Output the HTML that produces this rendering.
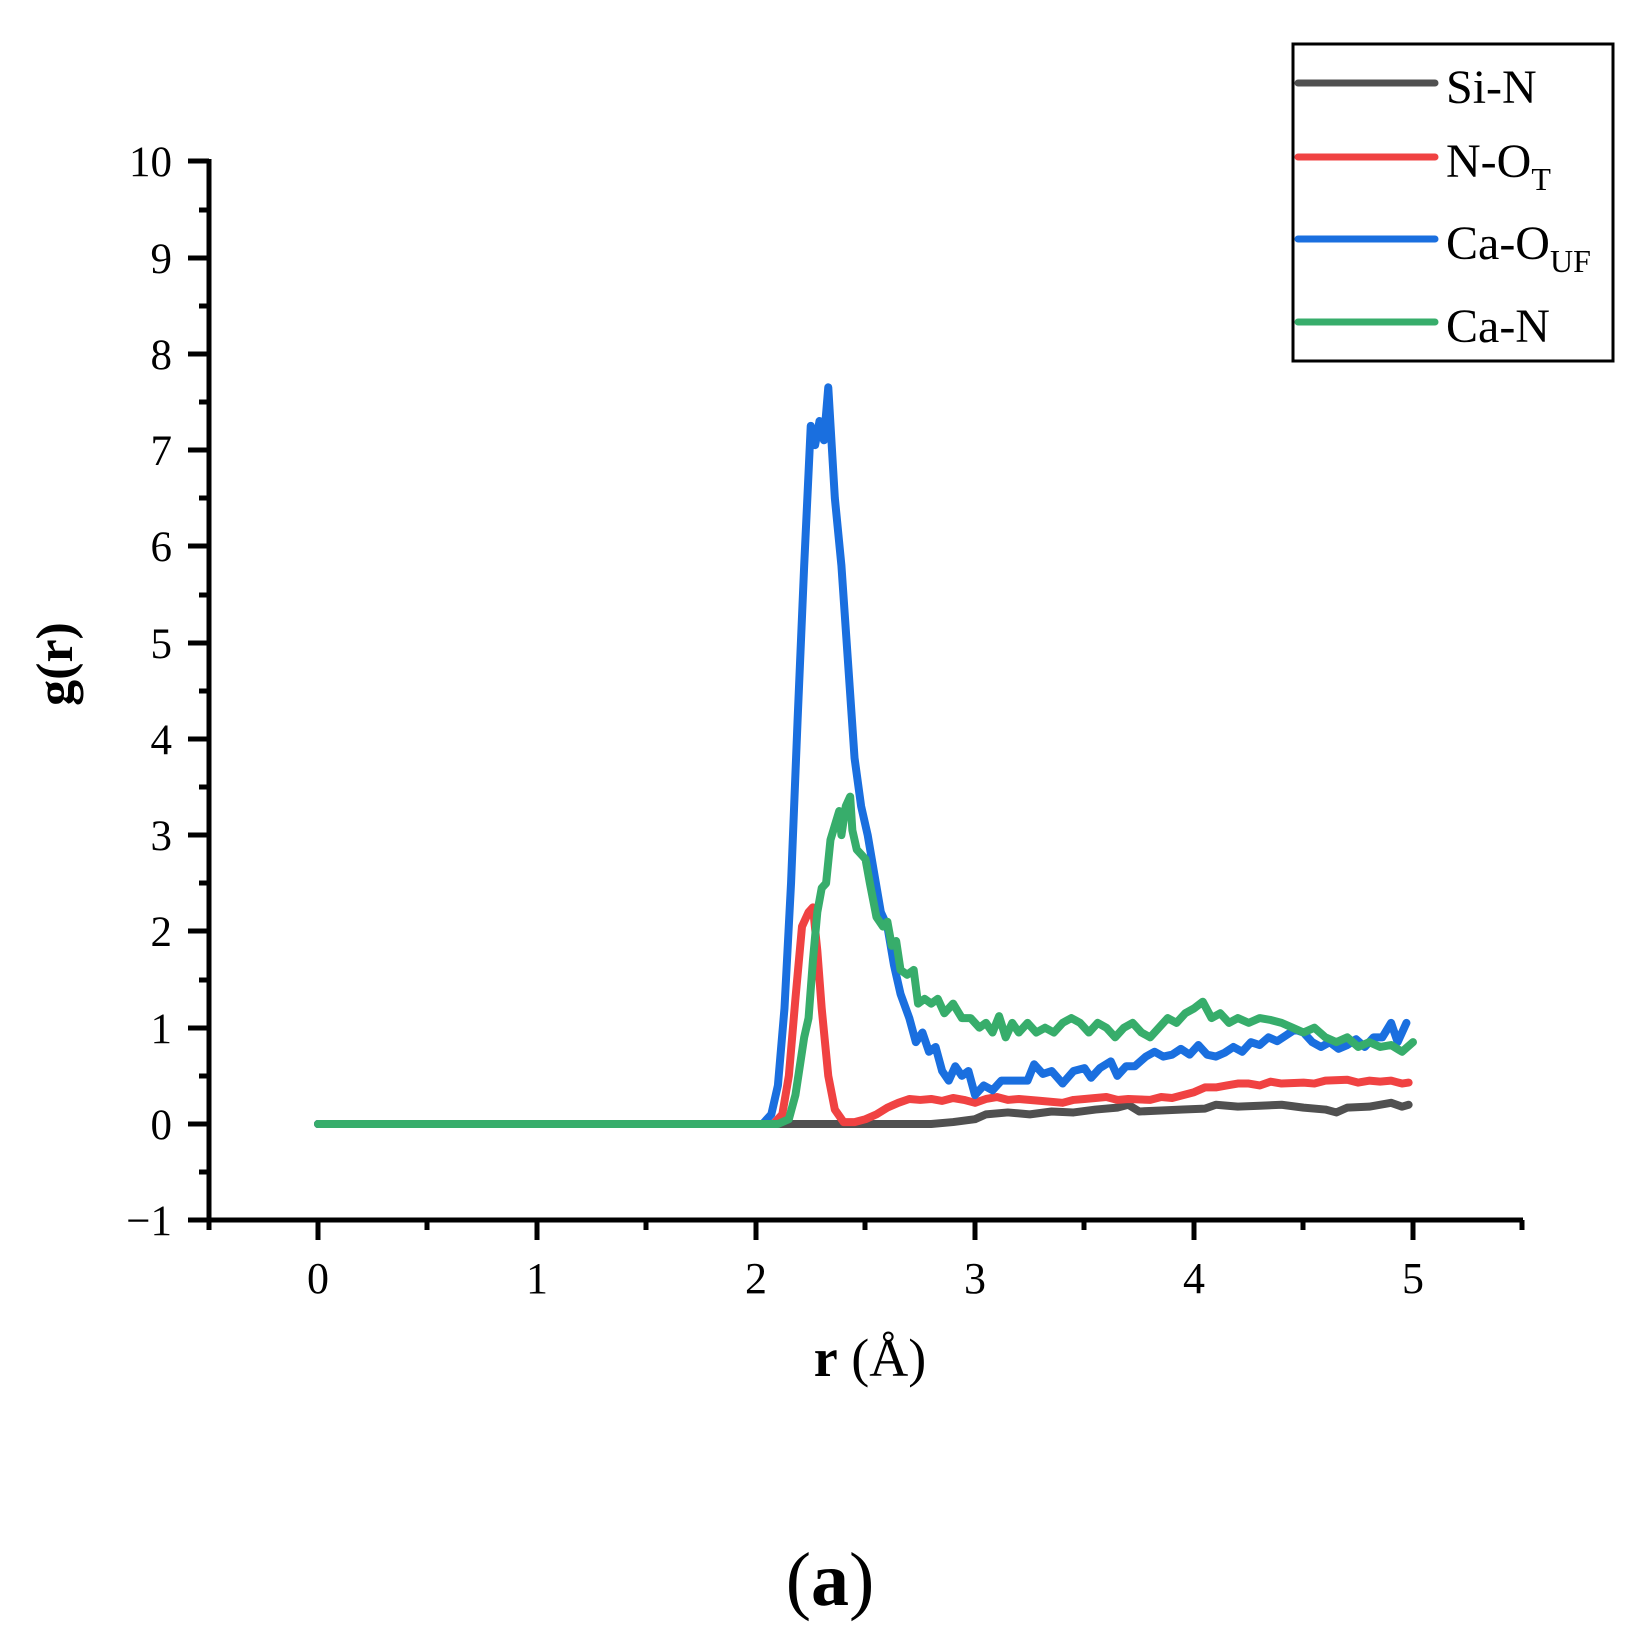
<!DOCTYPE html>
<html><head><meta charset="utf-8"><style>
html,body{margin:0;padding:0;background:#fff}
svg{display:block}
text{font-family:"Liberation Serif",serif;fill:#000}
</style></head><body>
<svg width="1644" height="1648" viewBox="0 0 1644 1648" xmlns="http://www.w3.org/2000/svg">
<g stroke="#000" stroke-width="5" fill="none">
<path d="M209,159 V1220 H1523"/>
<path d="M188,1220 H209 M188,1124 H209 M188,1028 H209 M188,931 H209 M188,835 H209 M188,739 H209 M188,643 H209 M188,546 H209 M188,450 H209 M188,354 H209 M188,258 H209 M188,161 H209"/>
<path d="M199,1172 H209 M199,1076 H209 M199,980 H209 M199,883 H209 M199,787 H209 M199,691 H209 M199,595 H209 M199,498 H209 M199,402 H209 M199,306 H209 M199,210 H209"/>
<path d="M318,1220 V1240 M537,1220 V1240 M756,1220 V1240 M975,1220 V1240 M1194,1220 V1240 M1413,1220 V1240"/>
<path d="M209,1220 V1230 M427,1220 V1230 M646,1220 V1230 M865,1220 V1230 M1084,1220 V1230 M1303,1220 V1230 M1522,1220 V1230"/>
</g>
<g font-size="43" text-anchor="end">
<text x="172" y="1235">−1</text><text x="172" y="1139">0</text><text x="172" y="1043">1</text>
<text x="172" y="946">2</text><text x="172" y="850">3</text><text x="172" y="754">4</text>
<text x="172" y="658">5</text><text x="172" y="561">6</text><text x="172" y="465">7</text>
<text x="172" y="369">8</text><text x="172" y="273">9</text><text x="172" y="176">10</text>
</g>
<g font-size="44" text-anchor="middle">
<text x="318" y="1293">0</text><text x="537" y="1293">1</text><text x="756" y="1293">2</text>
<text x="975" y="1293">3</text><text x="1194" y="1293">4</text><text x="1413" y="1293">5</text>
</g>
<text transform="translate(72,664) rotate(-90)" font-size="52" font-weight="bold" text-anchor="middle">g(r)</text>
<text x="870" y="1376" font-size="54" text-anchor="middle"><tspan font-weight="bold">r</tspan> (Å)</text>
<text x="830" y="1605" font-size="76" text-anchor="middle">(<tspan font-weight="bold">a</tspan>)</text>

<g transform="translate(318,1124) scale(219,-96.3)" fill="none" stroke-linejoin="round" stroke-linecap="round">
<polyline vector-effect="non-scaling-stroke" stroke="#505050" stroke-width="8" points="0,0 2.8,0 2.9,0.02 3.0,0.05 3.05,0.1 3.15,0.12 3.25,0.1 3.35,0.13 3.45,0.12 3.55,0.15 3.65,0.17 3.7,0.2 3.75,0.13 3.85,0.14 3.95,0.15 4.05,0.16 4.1,0.2 4.2,0.18 4.3,0.19 4.4,0.2 4.5,0.17 4.6,0.15 4.65,0.12 4.7,0.17 4.8,0.18 4.9,0.22 4.95,0.18 4.98,0.2"/>
<polyline vector-effect="non-scaling-stroke" stroke="#f04242" stroke-width="8" points="0,0 2.08,0 2.12,0.1 2.15,0.5 2.18,1.3 2.21,2.05 2.24,2.2 2.26,2.25 2.28,1.8 2.3,1.2 2.33,0.5 2.36,0.15 2.4,0.02 2.45,0.02 2.5,0.05 2.55,0.1 2.6,0.17 2.65,0.22 2.7,0.26 2.75,0.25 2.8,0.26 2.85,0.24 2.9,0.27 2.95,0.25 3.0,0.22 3.05,0.26 3.1,0.28 3.15,0.25 3.2,0.26 3.3,0.24 3.4,0.22 3.45,0.25 3.5,0.26 3.6,0.28 3.65,0.25 3.7,0.26 3.8,0.25 3.85,0.28 3.9,0.27 3.95,0.3 4.0,0.33 4.05,0.38 4.1,0.38 4.15,0.4 4.2,0.42 4.25,0.42 4.3,0.4 4.35,0.44 4.4,0.42 4.5,0.43 4.55,0.42 4.6,0.45 4.7,0.46 4.75,0.43 4.8,0.45 4.85,0.44 4.9,0.45 4.95,0.42 4.98,0.43"/>
<polyline vector-effect="non-scaling-stroke" stroke="#1a6fdf" stroke-width="8" points="0,0 2.03,0 2.07,0.1 2.1,0.4 2.13,1.2 2.16,2.5 2.19,4.2 2.22,5.8 2.25,7.25 2.27,7.05 2.29,7.3 2.31,7.1 2.33,7.65 2.36,6.5 2.39,5.8 2.42,4.8 2.45,3.8 2.48,3.3 2.51,3.0 2.54,2.6 2.57,2.2 2.6,2.05 2.63,1.65 2.66,1.35 2.7,1.1 2.73,0.85 2.76,0.95 2.79,0.75 2.82,0.8 2.85,0.55 2.88,0.45 2.91,0.6 2.94,0.5 2.97,0.55 3.0,0.3 3.04,0.4 3.08,0.35 3.12,0.45 3.18,0.45 3.24,0.45 3.27,0.62 3.31,0.52 3.35,0.55 3.4,0.42 3.45,0.55 3.5,0.58 3.53,0.48 3.57,0.58 3.62,0.65 3.65,0.5 3.69,0.6 3.73,0.6 3.78,0.7 3.82,0.75 3.86,0.7 3.9,0.72 3.94,0.78 3.98,0.72 4.02,0.82 4.06,0.72 4.1,0.7 4.14,0.74 4.18,0.8 4.22,0.75 4.26,0.85 4.3,0.82 4.34,0.9 4.38,0.86 4.42,0.92 4.46,0.98 4.5,0.95 4.54,0.85 4.58,0.8 4.62,0.85 4.66,0.78 4.7,0.82 4.74,0.88 4.78,0.8 4.82,0.9 4.86,0.9 4.9,1.05 4.93,0.85 4.97,1.05"/>
<polyline vector-effect="non-scaling-stroke" stroke="#37ad6b" stroke-width="8" points="0,0 2.1,0 2.15,0.05 2.18,0.3 2.2,0.6 2.22,0.9 2.24,1.1 2.26,1.7 2.28,2.2 2.3,2.45 2.32,2.5 2.34,2.95 2.36,3.1 2.38,3.25 2.39,3.0 2.41,3.3 2.43,3.4 2.44,3.05 2.46,2.85 2.48,2.8 2.5,2.75 2.52,2.5 2.55,2.15 2.58,2.05 2.6,2.1 2.62,1.85 2.64,1.9 2.66,1.6 2.69,1.55 2.72,1.6 2.74,1.25 2.77,1.3 2.8,1.25 2.83,1.3 2.86,1.15 2.9,1.25 2.94,1.1 2.98,1.1 3.02,1.0 3.05,1.05 3.08,0.95 3.11,1.12 3.14,0.9 3.17,1.05 3.2,0.95 3.24,1.05 3.28,0.95 3.32,1.0 3.36,0.95 3.4,1.05 3.44,1.1 3.48,1.05 3.52,0.95 3.56,1.05 3.6,1.0 3.64,0.9 3.68,1.0 3.72,1.05 3.76,0.95 3.8,0.9 3.84,1.0 3.88,1.1 3.92,1.05 3.96,1.15 4.0,1.2 4.04,1.27 4.08,1.1 4.12,1.15 4.16,1.05 4.2,1.1 4.25,1.05 4.3,1.1 4.35,1.08 4.4,1.05 4.45,1.0 4.5,0.95 4.55,1.0 4.6,0.9 4.65,0.85 4.7,0.9 4.75,0.8 4.8,0.85 4.85,0.8 4.9,0.82 4.95,0.75 5.0,0.85"/>
</g>

<rect x="1293" y="44" width="320" height="317" fill="none" stroke="#000" stroke-width="3"/>
<g stroke-width="7" stroke-linecap="round">
<line x1="1298" y1="83" x2="1435" y2="83" stroke="#505050"/>
<line x1="1298" y1="157" x2="1435" y2="157" stroke="#f04242"/>
<line x1="1298" y1="239" x2="1435" y2="239" stroke="#1a6fdf"/>
<line x1="1298" y1="322" x2="1435" y2="322" stroke="#37ad6b"/>
</g>
<g font-size="48">
<text x="1446" y="103">Si-N</text>
<text x="1446" y="177">N-O<tspan font-size="32" dy="13">T</tspan></text>
<text x="1446" y="259">Ca-O<tspan font-size="32" dy="13">UF</tspan></text>
<text x="1446" y="342">Ca-N</text>
</g>
</svg>
</body></html>
